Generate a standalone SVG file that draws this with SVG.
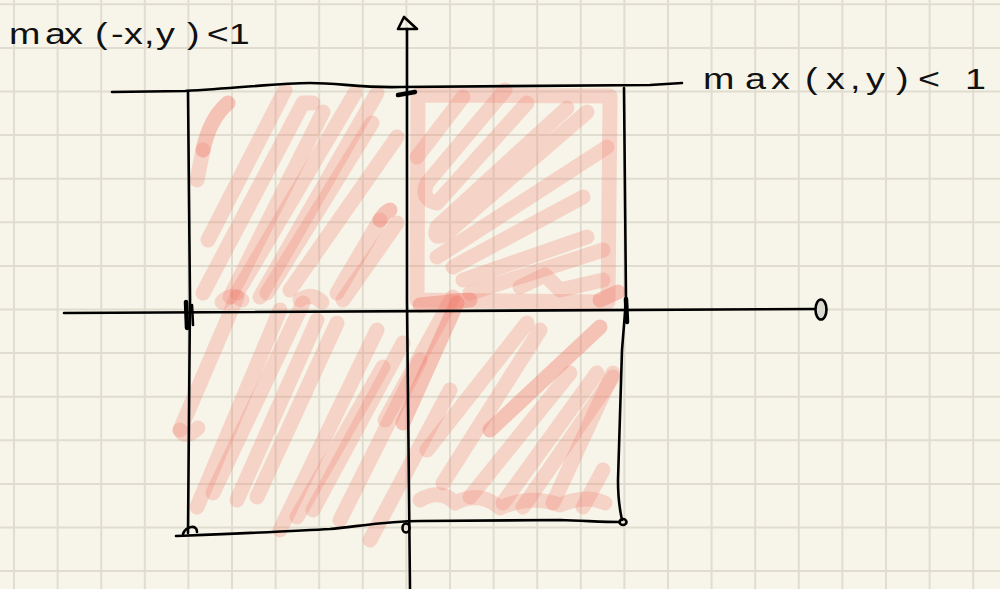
<svg xmlns="http://www.w3.org/2000/svg" width="1000" height="589" viewBox="0 0 1000 589">
<style>
.grid{fill:none;stroke:#e0ddd0;stroke-width:2}
.h{fill:none;stroke:#f07868;stroke-opacity:0.26;stroke-width:15;stroke-linecap:round;stroke-linejoin:round}
.hd{stroke-opacity:0.4}
.ink{fill:none;stroke:#000;stroke-width:2.6;stroke-linecap:round;stroke-linejoin:round}
.tick{fill:none;stroke:#000;stroke-width:4.5;stroke-linecap:round}
.lbl{font-family:"Liberation Sans",Arial,sans-serif;font-size:29px;fill:#111}
</style>
<rect width="1000" height="589" fill="#f7f5e9"/>
<path id="grid" class="grid" d="M14 0V589M57.6 0V589M101.2 0V589M144.8 0V589M188.4 0V589M232 0V589M275.6 0V589M319.2 0V589M362.8 0V589M406.4 0V589M450 0V589M493.6 0V589M537.2 0V589M580.8 0V589M624.4 0V589M668 0V589M711.6 0V589M755.2 0V589M798.8 0V589M842.4 0V589M886 0V589M929.6 0V589M973.2 0V589M0 4.3H1000M0 47.9H1000M0 91.5H1000M0 135.1H1000M0 178.7H1000M0 222.3H1000M0 265.9H1000M0 309.5H1000M0 353.1H1000M0 396.7H1000M0 440.3H1000M0 483.9H1000M0 527.5H1000M0 571.1H1000"/>

<g id="hatching">
  <!-- top-right quadrant -->
  <path class="h" d="M610 100 L610 96 L418 95 L417 300 L608 302 L610 100"/>
  <path class="h" d="M463 97 L417 157"/>
  <path class="h" d="M505 90 L427 183 Q420 200 437 203 L527 103"/>
  <path class="h" d="M567 108 L437 227 Q432 242 447 233 L587 112"/>
  <path class="h" d="M607 147 L437 257"/>
  <path class="h" d="M583 197 L453 267"/>
  <path class="h" d="M587 237 L463 280"/>
  <path class="h" d="M603 250 L470 293"/>
  <path class="h" d="M520 287 L545 275 L560 290 L603 280"/>
  <!-- top-left quadrant -->
  <path class="h" d="M197 180 L203 150"/>
  <path class="h hd" d="M203 150 Q210 118 228 103"/>
  <path class="h" d="M208 240 L285 90"/>
  <path class="h" d="M203 293 L303 103 L313 103"/>
  <path class="h" d="M230 297 L323 112"/>
  <path class="h" d="M237 293 L355 93"/>
  <path class="h" d="M260 297 L377 93"/>
  <path class="h" d="M267 293 L372 123"/>
  <path class="h" d="M290 290 L397 137"/>
  <path class="h" d="M337 293 L380 220"/>
  <path class="h hd" d="M380 220 Q385 212 390 210"/>
  <path class="h" d="M343 300 L397 223"/>
  <path class="h" d="M222 302 Q232 292 242 300"/>
  <path class="h" d="M300 300 Q312 292 322 302"/>
  <!-- bottom-left -->
  <path class="h" d="M180 430 L237 297"/>
  <path class="h" d="M180 430 Q185 440 198 428"/>
  <path class="h" d="M197 507 L280 310"/>
  <path class="h" d="M213 493 L303 303"/>
  <path class="h" d="M237 500 L317 320"/>
  <path class="h" d="M257 497 L337 323"/>
  <path class="h" d="M280 530 L377 330"/>
  <path class="h" d="M297 517 L383 367"/>
  <path class="h" d="M313 510 L403 343"/>
  <path class="h" d="M340 520 L420 360"/>
  <path class="h" d="M370 540 L450 390"/>
  <!-- bottom-right -->
  <path class="h hd" d="M403 423 L457 303"/>
  <path class="h" d="M385 420 L453 297"/>
  <path class="h" d="M427 450 L527 323"/>
  <path class="h" d="M443 483 L540 330"/>
  <path class="h hd" d="M490 430 L600 327"/>
  <path class="h" d="M470 497 L570 373"/>
  <path class="h" d="M503 503 L597 373"/>
  <path class="h" d="M523 507 L613 377"/>
  <path class="h" d="M553 503 L613 373"/>
  <path class="h" d="M583 507 L603 470"/>
  <path class="h" d="M420 500 Q440 488 455 503 Q480 490 500 508 Q530 494 560 505 Q585 494 605 503"/>
  <path class="h hd" d="M420 305 L470 300"/>
  <path class="h hd" d="M600 300 L618 292"/>
</g>

<g id="square">
  <path class="ink" d="M112 92 L185 91 C240 88 280 83 310 83 C340 83 360 88 400 87 L650 85 L682 83"/>
  <path class="ink" d="M188 91 L190 300 L188 533"/>
  <path class="ink" d="M176 536 C250 533 300 531 330 529 C360 526 390 521 420 521 L560 520 C590 521 605 522 620 522"/>
  <path class="ink" d="M183 534 C186 526 197 524 197 532"/>
  <path class="ink" d="M624 88 L626 300 L622 350 L618 480 C618 505 621 514 622 520"/>
  <ellipse class="ink" cx="623" cy="522" rx="3.5" ry="3"/>
  <ellipse class="ink" cx="406" cy="528" rx="3.5" ry="4.5"/>
</g>

<g id="axes">
  <path class="ink" d="M64 313 L815 309"/>
  <ellipse cx="821" cy="309.5" rx="5.5" ry="10" fill="#d9d9cf" stroke="#000" stroke-width="2.6"/>
  <path class="ink" d="M407 29 L407 300 L410 589"/>
  <path class="ink" d="M404 17 L398 29 L417 29 Z"/>
  <path class="tick" d="M398 95 L415 92"/>
  <path class="tick" d="M186 302 L187 328"/>
  <path class="ink" d="M192 305 L193 325"/>
  <path class="tick" d="M626 299 L627 322"/>
</g>

<g id="labels">
  <text class="lbl" transform="scale(1.3 1)" x="6.9 34.6 49.2 73.1 85.4 95.4 110.8 120 143.8 159 176" y="44">max(-x,y)&lt;1</text>
  <text class="lbl" transform="scale(1.3 1)" x="540.8 573.1 593.1 619.2 635.4 653.8 666.2 689.2 706.2 742.3" y="89">max(x,y)&lt;1</text>
</g>
</svg>
